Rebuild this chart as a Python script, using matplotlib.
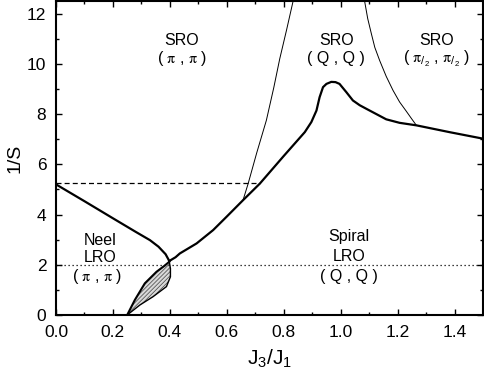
import matplotlib
matplotlib.use("Agg")
import matplotlib.pyplot as plt
from matplotlib.ticker import MultipleLocator

plt.rcParams['font.family'] = ['Liberation Sans', 'DejaVu Sans']
plt.rcParams['mathtext.fontset'] = 'stix'
plt.rcParams['mathtext.default'] = 'regular'
plt.rcParams['hatch.linewidth'] = 0.5

# Neel LRO boundary (left thick curve)
neel_x = [0.0, 0.1, 0.2, 0.28, 0.33, 0.36, 0.385, 0.398]
neel_y = [5.2, 4.53, 3.85, 3.31, 2.98, 2.72, 2.42, 2.15]

# Spiral LRO boundary (main thick curve)
spiral_x = [0.398, 0.42, 0.435, 0.494, 0.552, 0.6, 0.657, 0.716, 0.8, 0.874,
            0.897, 0.915, 0.926, 0.938, 0.95, 0.967, 0.982, 0.996, 1.02, 1.043,
            1.067, 1.09, 1.16, 1.207, 1.266, 1.382, 1.5]
spiral_y = [2.15, 2.3, 2.45, 2.85, 3.38, 3.92, 4.57, 5.23, 6.33, 7.28,
            7.68, 8.14, 8.67, 9.07, 9.2, 9.28, 9.27, 9.2, 8.87, 8.54,
            8.35, 8.21, 7.79, 7.65, 7.55, 7.28, 7.02]

# SRO (pi,pi) / SRO (Q,Q) crossover (thin)
thinL_x = [0.657, 0.675, 0.705, 0.739, 0.765, 0.786, 0.81, 0.833]
thinL_y = [4.57, 5.23, 6.45, 7.75, 9.05, 10.2, 11.35, 12.5]

# SRO (Q,Q) / SRO (pi/2,pi/2) crossover (thin)
thinR_x = [1.266, 1.25, 1.23, 1.207, 1.184, 1.16, 1.137, 1.12, 1.108, 1.095, 1.084]
thinR_y = [7.55, 7.8, 8.12, 8.48, 8.94, 9.5, 10.13, 10.65, 11.19, 11.8, 12.5]

# Coexistence (shaded) region
shadeL_x = [0.25, 0.277, 0.312, 0.353, 0.38, 0.398]
shadeL_y = [0.0, 0.6, 1.26, 1.72, 1.95, 2.12]
shadeR_x = [0.398, 0.402, 0.402, 0.388, 0.341, 0.295, 0.25]
shadeR_y = [2.12, 1.85, 1.52, 1.13, 0.73, 0.4, 0.0]

dotted_y = 2.0
dashed_y = 5.25
dashed_xmax = 0.716

fig = plt.figure(figsize=(4.84, 3.74), dpi=100)
ax = fig.add_axes([56/484, 59/374, 427/484, 314/374])

ax.fill(shadeL_x + shadeR_x, shadeL_y + shadeR_y, facecolor='#d8d8d8',
        edgecolor='#404040', hatch='////////', linewidth=0)
ax.plot(shadeL_x, shadeL_y, color='black', lw=1.5)
ax.plot(shadeR_x, shadeR_y, color='black', lw=1.0)

ax.plot(neel_x, neel_y, color='black', lw=1.6)
ax.plot(spiral_x, spiral_y, color='black', lw=1.6)
ax.plot(thinL_x, thinL_y, color='black', lw=0.7)
ax.plot(thinR_x, thinR_y, color='black', lw=0.7)

ax.plot([0.0, 1.5], [dotted_y, dotted_y], color='black', lw=0.9, ls=(0, (1, 2.2)))
ax.plot([0.0, dashed_xmax], [dashed_y, dashed_y], color='black', lw=0.9, ls=(0, (4, 2.5)))

fs = 11.5
ax.text(0.442, 10.93, 'SRO', ha='center', va='center', fontsize=fs)
ax.text(0.442, 10.2, r'( $\mathrm{\pi}$ , $\mathrm{\pi}$ )', ha='center', va='center', fontsize=fs)
ax.text(0.985, 10.93, 'SRO', ha='center', va='center', fontsize=fs)
ax.text(0.985, 10.2, '( Q , Q )', ha='center', va='center', fontsize=fs)
ax.text(1.336, 10.93, 'SRO', ha='center', va='center', fontsize=fs)
ax.text(1.336, 10.2, r'( $\mathrm{\pi}_{/_2}$ , $\mathrm{\pi}_{/_2}$ )', ha='center', va='center', fontsize=fs)
ax.text(0.154, 2.98, 'Neel', ha='center', va='center', fontsize=fs)
ax.text(0.154, 2.3, 'LRO', ha='center', va='center', fontsize=fs)
ax.text(0.145, 1.52, r'( $\mathrm{\pi}$ , $\mathrm{\pi}$ )', ha='center', va='center', fontsize=fs)
ax.text(1.03, 3.11, 'Spiral', ha='center', va='center', fontsize=fs)
ax.text(1.03, 2.34, 'LRO', ha='center', va='center', fontsize=fs)
ax.text(1.03, 1.55, '( Q , Q )', ha='center', va='center', fontsize=fs)

ax.set_xlim(0, 1.5)
ax.set_ylim(0, 12.5)
ax.xaxis.set_major_locator(MultipleLocator(0.2))
ax.xaxis.set_minor_locator(MultipleLocator(0.1))
ax.yaxis.set_major_locator(MultipleLocator(2))
ax.yaxis.set_minor_locator(MultipleLocator(1))
ax.xaxis.set_major_formatter(plt.FuncFormatter(lambda v, p: f'{v:.1f}'))
ax.tick_params(which='both', direction='in', top=True, right=True, width=1.0)
ax.tick_params(which='major', length=4.5, labelsize=12.5, pad=7)
ax.tick_params(which='minor', length=2.5)
ax.tick_params(axis='y', which='major', pad=7)
for s in ax.spines.values():
    s.set_linewidth(1.5)

ax.set_xlabel('J$_3$/J$_1$', fontsize=15)
ax.set_ylabel('1/S', fontsize=14)
ax.xaxis.set_label_coords(0.5, -0.105)
ax.yaxis.set_label_coords(-0.076, 0.5)

fig.savefig('out.png', dpi=100)
